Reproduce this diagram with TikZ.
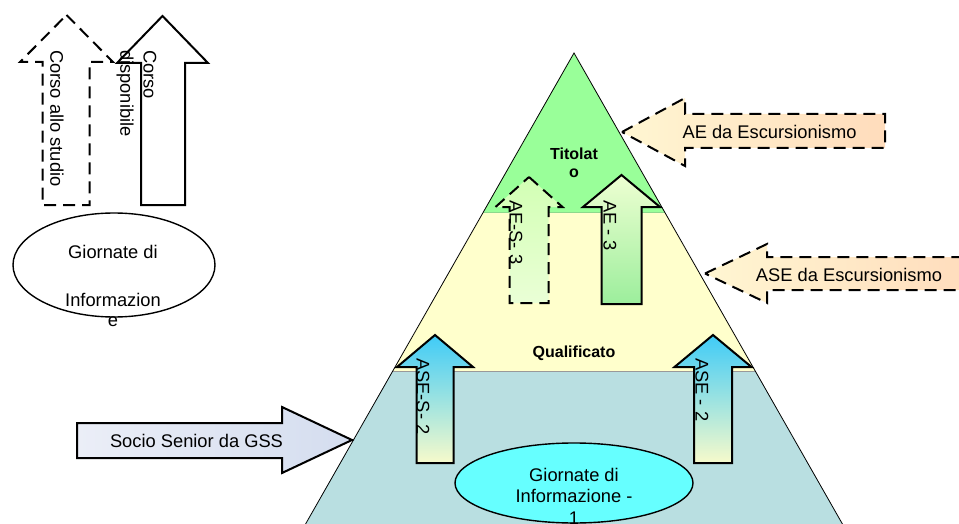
\documentclass[tikz,border=0pt]{standalone}
\usepackage{fontspec}
\setmainfont{Liberation Sans}
\usetikzlibrary{shapes.geometric}
\definecolor{triGreen}{HTML}{99FF99}
\definecolor{triYellow}{HTML}{FFFFCC}
\definecolor{triTeal}{HTML}{B9DFE1}
\definecolor{ellCyan}{HTML}{66FFFF}
\definecolor{peachL}{HTML}{FFF6D2}
\definecolor{peachR}{HTML}{FFDCBC}
\definecolor{skyTop}{HTML}{3FCBF7}
\definecolor{paleBot}{HTML}{F7FACB}
\definecolor{aeTop}{HTML}{EEFFD2}
\definecolor{aeBot}{HTML}{9CEE9C}
\definecolor{aesTop}{HTML}{D2FFB4}
\definecolor{aesBot}{HTML}{EAFFD6}
\definecolor{socL}{HTML}{EBEEF7}
\definecolor{socR}{HTML}{D4DDEF}
\begin{document}
\begin{tikzpicture}[x=1pt,y=-1pt,
  every node/.style={font=\fontsize{18.3}{21.5}\selectfont, inner sep=0pt},
  arrowline/.style={draw=black, line width=2pt, line join=miter},
  dashline/.style={arrowline, dash pattern=on 12pt off 7pt},
  vtext/.style={rotate=-90, anchor=west},
  bandtext/.style={font=\bfseries\fontsize{16}{18}\selectfont},
  ellbox/.style={ellipse, draw=black, line width=1.4pt}]
\useasboundingbox (0,0) rectangle (959,524);
\clip (0,0) rectangle (959,524);

% pyramid bands
\fill[triGreen] (574,53) -- (664.6,212) -- (483.4,212) -- cycle;
\fill[triYellow] (483.4,212) -- (664.6,212) -- (755.3,371) -- (392.7,371) -- cycle;
\fill[triTeal] (392.7,371) -- (755.3,371) -- (848.7,535) -- (299.3,535) -- cycle;
\draw[green!50!gray!60, line width=0.5pt] (483.4,212) -- (664.6,212);
\draw[gray!80, line width=0.7pt] (392.7,371) -- (755.3,371);
\draw[black, line width=0.8pt] (299.3,535) -- (574,53) -- (848.7,535);

\node[bandtext, align=center] (titolato) at (574,163) {Titolat\\o};
\node[bandtext] (qualificato) at (574,353) {Qualificato};

% AE-S-3 (dashed)
\path[dashline, top color=aesTop, bottom color=aesBot]
  (529,177) -- (562.5,207) -- (548.5,207) -- (548.5,303) -- (509.5,303)
  -- (509.5,207) -- (495.5,207) -- cycle;
\node[vtext] (aes3) at (516,200) {AE-S- 3};

% AE-3
\path[arrowline, top color=aeTop, bottom color=aeBot]
  (621.5,175) -- (660,207) -- (641.5,207) -- (641.5,304) -- (601.5,304)
  -- (601.5,207) -- (583,207) -- cycle;
\node[vtext] (ae3) at (610,200) {AE - 3};

% ASE-S-2
\path[arrowline, top color=skyTop, bottom color=paleBot]
  (435,335) -- (473,367) -- (453.5,367) -- (453.5,463) -- (416.5,463)
  -- (416.5,367) -- (397,367) -- cycle;
\node[vtext] (ases2) at (423,358) {ASE-S- 2};

% ASE-2
\path[arrowline, top color=skyTop, bottom color=paleBot]
  (713,335) -- (751.5,367) -- (732,367) -- (732,463) -- (694,463)
  -- (694,367) -- (674.5,367) -- cycle;
\node[vtext] (ase2) at (702,358) {ASE - 2};

% AE da Escursionismo (dashed, left)
\path[dashline, left color=peachL, right color=peachR]
  (622,132) -- (685,98) -- (685,114) -- (885,114) -- (885,148)
  -- (685,148) -- (685,166) -- cycle;
\node (aeesc) at (769.5,132) {AE da Escursionismo};

% ASE da Escursionismo (dashed, left)
\path[dashline, left color=peachL, right color=peachR]
  (705,273.5) -- (767,244) -- (767,257) -- (975,257) -- (975,290)
  -- (767,290) -- (767,303) -- cycle;
\node (aseesc) at (849,275) {ASE da Escursionismo};

% Socio Senior da GSS (right)
\path[arrowline, left color=socL, right color=socR]
  (352,440) -- (282,407) -- (282,423) -- (77,423) -- (77,458)
  -- (282,458) -- (282,473) -- cycle;
\node (socio) at (196.5,441) {Socio Senior da GSS};

% Corso allo studio (dashed)
\path[dashline]
  (66.5,15) -- (113,62) -- (89.5,62) -- (89.5,205) -- (42.5,205)
  -- (42.5,62) -- (20,62) -- cycle;
\node[vtext] (cstudio) at (57,50) {Corso allo studio};

% Corso disponibile
\path[arrowline]
  (162.5,16) -- (208,63) -- (185,63) -- (185,205) -- (141,205)
  -- (141,63) -- (117,63) -- cycle;
\node[vtext] (cdisp1) at (150,50) {Corso};
\node[vtext] (cdisp2) at (125,50) {disponibile};

% Giornate di Informazione (top left)
\node[ellbox, fill=white, minimum width=202pt, minimum height=104pt] (gi) at (114,265) {};
\node (gi1) at (113,252) {Giornate di};
\node (gi2) at (113,300) {Informazion};
\node (gi3) at (113,322) {e};

% Giornate di Informazione - 1 (bottom)
\node[ellbox, fill=ellCyan, minimum width=238pt, minimum height=80pt] (gi1b) at (574,483) {};
\node[align=center] (gi1t) at (574,496) {Giornate di\\Informazione -\\1};
\end{tikzpicture}
\end{document}
